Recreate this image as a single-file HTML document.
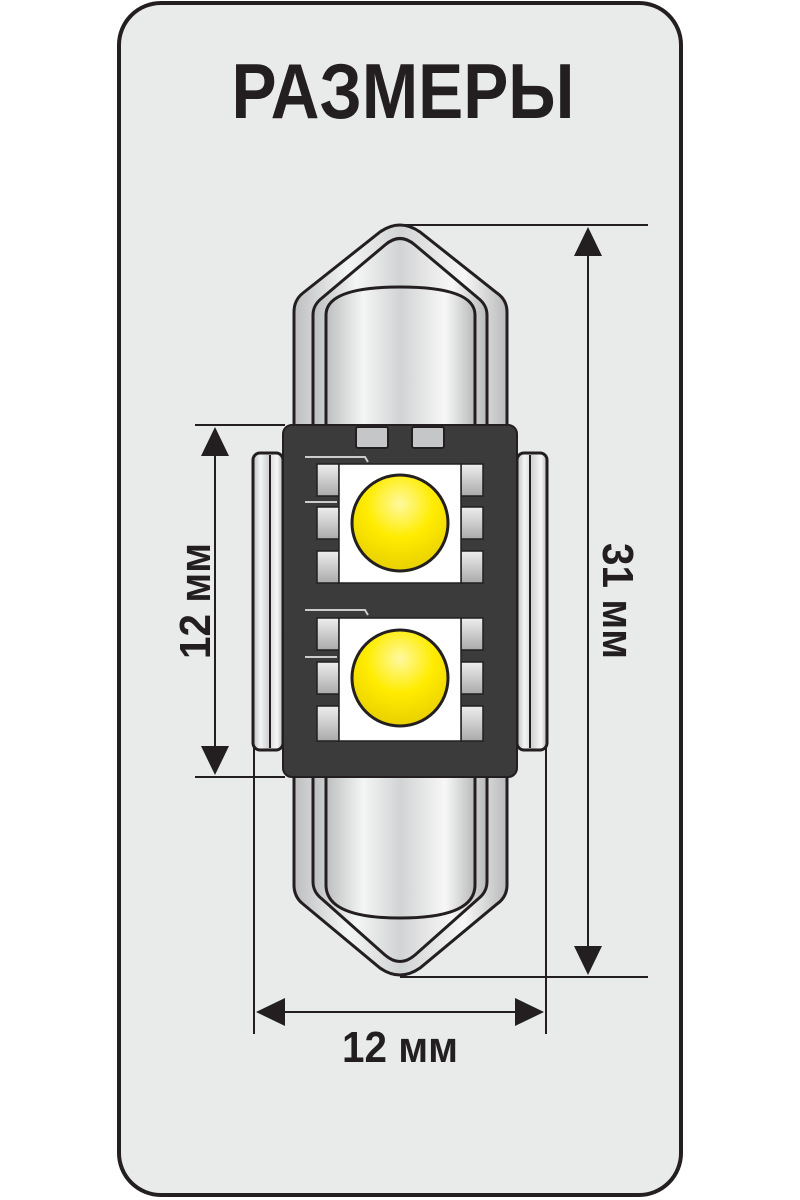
<!DOCTYPE html>
<html><head><meta charset="utf-8"><style>
html,body{margin:0;padding:0;background:#fff;}
svg{display:block;}
text{font-family:"Liberation Sans",sans-serif;font-weight:bold;fill:#231f20;}
</style></head><body>
<svg width="800" height="1200" viewBox="0 0 800 1200" xmlns="http://www.w3.org/2000/svg">
<defs>
<linearGradient id="m" x1="0" x2="1" y1="0" y2="0">
<stop offset="0" stop-color="#bdbebf"/><stop offset="0.25" stop-color="#f4f5f5"/><stop offset="0.5" stop-color="#d2d3d4"/><stop offset="0.8" stop-color="#f7f7f7"/><stop offset="1" stop-color="#b8b9ba"/>
</linearGradient>
<radialGradient id="y" cx="0.5" cy="0.3" r="0.7">
<stop offset="0" stop-color="#fff9a0"/><stop offset="0.5" stop-color="#ffec00"/><stop offset="1" stop-color="#e8d000"/>
</radialGradient>
<linearGradient id="p" x1="0" x2="0" y1="0" y2="1"><stop offset="0" stop-color="#eee"/><stop offset="1" stop-color="#aaa"/></linearGradient>
</defs>
<rect x="119" y="3" width="562" height="1192" rx="42" fill="#e9eaea" stroke="#231f20" stroke-width="4"/>
<text x="403" y="118" font-size="78" text-anchor="middle" textLength="343" lengthAdjust="spacingAndGlyphs">РАЗМЕРЫ</text>

<!-- dimension lines -->
<g stroke="#231f20" stroke-width="2" fill="none">
<line x1="400" y1="225" x2="648" y2="225"/><line x1="400" y1="977" x2="648" y2="977"/>
<line x1="588" y1="250" x2="588" y2="952"/>
<line x1="195" y1="425" x2="285" y2="425"/><line x1="195" y1="777" x2="285" y2="777"/>
<line x1="215" y1="450" x2="215" y2="752"/>
<line x1="254" y1="745" x2="254" y2="1034"/><line x1="546" y1="745" x2="546" y2="1034"/>
<line x1="280" y1="1012" x2="520" y2="1012"/>
</g>
<g fill="#231f20">
<polygon points="588,227 574,256 602,256"/><polygon points="588,975 574,946 602,946"/>
<polygon points="215,427 201,456 229,456"/><polygon points="215,775 201,746 229,746"/>
<polygon points="256,1012 285,998 285,1026"/><polygon points="544,1012 515,998 515,1026"/>
</g>
<text x="400" y="1062" font-size="44" text-anchor="middle" textLength="116" lengthAdjust="spacingAndGlyphs">12 мм</text>
<text transform="translate(210,601) rotate(-90)" font-size="44" text-anchor="middle" textLength="116" lengthAdjust="spacingAndGlyphs">12 мм</text>
<text transform="translate(603,601) rotate(90)" font-size="44" text-anchor="middle" textLength="116" lengthAdjust="spacingAndGlyphs">31 мм</text>

<!-- bulb body -->
<g stroke="#231f20" stroke-width="3" fill="url(#m)">
<path d="M294,440 L294,312 Q294,300 303,293 L380,232 Q400,218 420,232 L497,293 Q507,300 507,312 L507,440 Z"/>
<path d="M313,440 L313,315 Q313,305 322,298 L385,245 Q400,232 415,245 L478,298 Q487,305 487,315 L487,440 Z"/>
<path d="M326,440 L326,315 Q326,287 400,287 Q475,287 475,315 L475,440 Z"/>
<path d="M294,760 L294,885 Q294,897 303,904 L380,968 Q400,982 420,968 L497,904 Q507,897 507,885 L507,760 Z"/>
<path d="M313,760 L313,882 Q313,892 322,899 L385,955 Q400,968 415,955 L478,899 Q487,892 487,882 L487,760 Z"/>
<path d="M326,760 L326,885 Q326,918 400,918 Q475,918 475,885 L475,760 Z"/>
<rect x="253" y="453" width="30" height="297" rx="7"/>
<rect x="517" y="453" width="30" height="297" rx="7"/>
</g>
<g stroke="#231f20" stroke-width="2" fill="none">
<line x1="270" y1="455" x2="270" y2="748"/><line x1="530" y1="455" x2="530" y2="748"/>
</g>
<!-- chip -->
<rect x="283" y="425" width="234" height="352" rx="9" fill="#3b3b3b" stroke="#231f20" stroke-width="2"/>
<g fill="#c5c6c7" stroke="#231f20" stroke-width="2">
<rect x="356" y="427" width="32" height="21" rx="2"/><rect x="412" y="427" width="32" height="21" rx="2"/>
</g>
<g fill="url(#p)" stroke="#231f20" stroke-width="1.5">
<rect x="317" y="464" width="22" height="32"/><rect x="317" y="507" width="22" height="32"/><rect x="317" y="551" width="22" height="32"/>
<rect x="461" y="464" width="22" height="32"/><rect x="461" y="507" width="22" height="32"/><rect x="461" y="551" width="22" height="32"/>
<rect x="317" y="618" width="22" height="32"/><rect x="317" y="662" width="22" height="32"/><rect x="317" y="706" width="22" height="35"/>
<rect x="461" y="618" width="22" height="32"/><rect x="461" y="662" width="22" height="32"/><rect x="461" y="706" width="22" height="35"/>
</g>
<g stroke="#ccc" stroke-width="2" fill="none">
<path d="M305,457 L365,457 L368,462"/><line x1="305" y1="502" x2="337" y2="502"/>
<path d="M305,610 L365,610 L368,615"/><line x1="305" y1="657" x2="337" y2="657"/>
</g>
<rect x="339" y="464" width="122" height="119" fill="#fff" stroke="#231f20" stroke-width="1.5"/>
<rect x="339" y="618" width="122" height="123" fill="#fff" stroke="#231f20" stroke-width="1.5"/>
<circle cx="400" cy="523" r="48" fill="url(#y)" stroke="#231f20" stroke-width="3"/>
<circle cx="400" cy="678" r="48" fill="url(#y)" stroke="#231f20" stroke-width="3"/>
</svg>
</body></html>
